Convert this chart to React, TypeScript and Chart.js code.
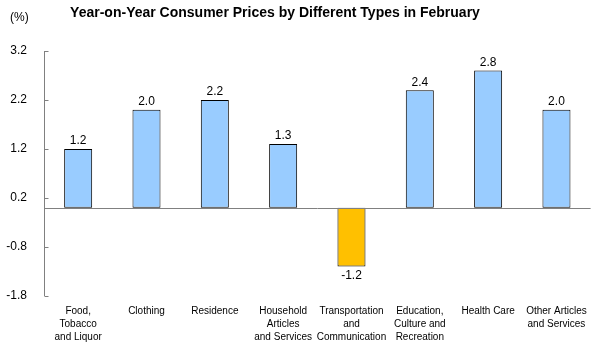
import React, { useEffect, useRef } from "react";
import { Chart, registerables } from "chart.js";

Chart.register(...registerables);

const categories: string[][] = [
  ["Food,", "Tobacco", "and Liquor"],
  ["Clothing"],
  ["Residence"],
  ["Household", "Articles", "and Services"],
  ["Transportation", "and", "Communication"],
  ["Education,", "Culture and", "Recreation"],
  ["Health Care"],
  ["Other Articles", "and Services"],
];
const values: number[] = [1.2, 2.0, 2.2, 1.3, -1.2, 2.4, 2.8, 2.0];
const yTicks: number[] = [-1.8, -0.8, 0.2, 1.2, 2.2, 3.2];
const titleText = "Year-on-Year Consumer Prices by Different Types in February";
const unitText = "(%)";

const FONT = "Arial, 'Liberation Sans', sans-serif";

const overlay = {
  id: "overlay",
  afterDatasetsDraw(chart: any) {
    const { ctx, chartArea, scales } = chart;
    const y = scales.y;
    ctx.save();
    // axes
    ctx.strokeStyle = "#808080";
    ctx.lineWidth = 1;
    const ax = Math.round(chartArea.left) + 0.5;
    ctx.beginPath();
    ctx.moveTo(ax, y.getPixelForValue(yTicks[yTicks.length - 1]));
    ctx.lineTo(ax, y.getPixelForValue(yTicks[0]));
    yTicks.forEach((t) => {
      const py = Math.round(y.getPixelForValue(t)) + 0.5;
      ctx.moveTo(ax, py);
      ctx.lineTo(ax + 4, py);
    });
    const zy = Math.round(y.getPixelForValue(0)) + 0.5;
    ctx.moveTo(ax, zy);
    ctx.lineTo(chartArea.right, zy);
    ctx.stroke();

    // value labels
    const meta = chart.getDatasetMeta(0);
    ctx.fillStyle = "#000";
    ctx.font = `12px ${FONT}`;
    ctx.textAlign = "center";
    meta.data.forEach((bar: any, i: number) => {
      const v = values[i];
      if (v >= 0) {
        ctx.textBaseline = "bottom";
        ctx.fillText(v.toFixed(1), bar.x, bar.y - 2);
      } else {
        ctx.textBaseline = "top";
        ctx.fillText(v.toFixed(1), bar.x, bar.y + 3);
      }
    });

    // title and unit
    ctx.font = `bold 14px ${FONT}`;
    ctx.textBaseline = "middle";
    ctx.textAlign = "center";
    ctx.fillText(titleText, 275, 13);
    ctx.font = `12px ${FONT}`;
    ctx.textAlign = "left";
    ctx.fillText(unitText, 10, 18);
    ctx.restore();
  },
};

export default function App() {
  const ref = useRef<HTMLCanvasElement>(null);
  useEffect(() => {
    document.body.style.margin = "0";
    const chart = new Chart(ref.current!, {
      type: "bar",
      data: {
        labels: categories,
        datasets: [
          {
            data: values,
            backgroundColor: values.map((v) => (v < 0 ? "#FFC000" : "#99CCFF")),
            borderColor: "#000000",
            borderWidth: 1,
            borderSkipped: false,
            categoryPercentage: 1,
            barPercentage: 0.41,
          },
        ],
      },
      options: {
        responsive: false,
        animation: false,
        layout: { padding: { top: 51, right: 4, left: 0, bottom: 0 } },
        plugins: { legend: { display: false }, tooltip: { enabled: false } },
        scales: {
          x: {
            grid: { display: false, drawTicks: false },
            border: { display: false },
            ticks: {
              color: "#000",
              font: { family: FONT, size: 10, lineHeight: 1.3 },
              maxRotation: 0,
              autoSkip: false,
              padding: 9,
            },
            afterFit(scale: any) {
              scale.height = 54;
            },
          },
          y: {
            min: -1.8,
            max: 3.2,
            grid: { display: false, drawTicks: false },
            border: { display: false },
            afterBuildTicks(scale: any) {
              scale.ticks = yTicks.map((v) => ({ value: v }));
            },
            ticks: {
              color: "#000",
              font: { family: FONT, size: 12 },
              padding: 17,
              callback: (v: any) => Number(v).toFixed(1),
            },
            afterFit(scale: any) {
              scale.width = 44;
            },
          },
        },
      },
      plugins: [overlay],
    });
    return () => chart.destroy();
  }, []);
  return (
    <div style={{ width: 596, height: 350, background: "#fff" }}>
      <canvas ref={ref} width={596} height={350} />
    </div>
  );
}
